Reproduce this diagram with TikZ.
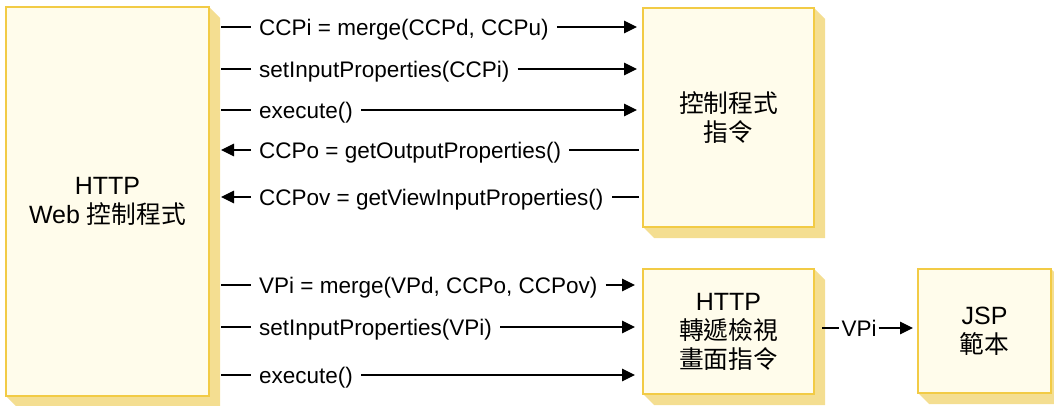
\documentclass[tikz,border=0pt]{standalone}
\usepackage{fontspec}
\setmainfont{Liberation Sans}
\newfontfamily\cjk{Noto Sans CJK TC}[Scale=0.99]
\usetikzlibrary{arrows.meta,calc,backgrounds}
\definecolor{boxfill}{HTML}{FFFCEB}
\definecolor{boxline}{HTML}{F2CB45}
\definecolor{boxshade}{HTML}{F4DE91}

\begin{document}
\begin{tikzpicture}[x=1pt,y=-1pt,
  panel/.style={draw=boxline, fill=boxfill, line width=2pt, inner sep=0pt,
    outer sep=0pt, anchor=north west, align=center,
    font=\fontsize{25}{29}\selectfont},
  msg/.style={anchor=west, inner xsep=8pt, inner ysep=0pt, text height=16pt,
    text depth=0pt, font=\fontsize{22.5}{27}\selectfont},
  flow/.style={line width=1.2pt, -{Triangle[length=13pt,width=12.5pt]}},
  plain/.style={line width=1.2pt},
  shade/.style={fill=boxshade}]
\useasboundingbox (0,0) rectangle (1054,405);

% components
\node[panel, minimum width=203pt, minimum height=389pt] (lbox) at (6,7)
  {HTTP\\Web {\cjk 控制程式}};
\node[panel, minimum width=171pt, minimum height=219pt] (cbox) at (643,8)
  {{\cjk 控制程式}\\{\cjk 指令}};
\node[panel, minimum width=171pt, minimum height=125pt] (hbox) at (643,269)
  {HTTP\\{\cjk 轉遞檢視}\\{\cjk 畫面指令}};
\node[panel, minimum width=133pt, minimum height=124pt] (jbox) at (918,269)
  {JSP\\{\cjk 範本}};

% extruded shadows behind each component
\begin{scope}[on background layer]
  \foreach \b in {lbox,cbox,hbox,jbox}{
    \fill[shade] (\b.north east) -- ++(11,11) -- ($(\b.south east)+(11,11)$)
      -- ($(\b.south west)+(11,11)$) -- (\b.south west) -- cycle;
  }
\end{scope}

% calls to the controller command
\node[msg] (m1) at (251,27) {CCPi = merge(CCPd, CCPu)};
\node[msg] (m2) at (251,69) {setInputProperties(CCPi)};
\node[msg] (m3) at (251,110) {execute()};
\node[msg] (m4) at (251,150) {CCPo = getOutputProperties()};
\node[msg] (m5) at (251,197) {CCPov = getViewInputProperties()};

\foreach \m in {m1,m2,m3}{
  \draw[plain, shorten <=12pt] (lbox.east |- \m) -- (\m.west);
  \draw[flow, shorten >=6pt] (\m.east) -- (cbox.west |- \m);
}
\foreach \m in {m4,m5}{
  \draw[plain, shorten <=4pt] (cbox.west |- \m) -- (\m.east);
  \draw[flow, shorten >=12pt] (\m.west) -- (lbox.east |- \m);
}

% calls to the forward view command
\node[msg] (m6) at (251,285) {VPi = merge(VPd, CCPo, CCPov)};
\node[msg] (m7) at (251,327) {setInputProperties(VPi)};
\node[msg] (m8) at (251,375) {execute()};

\foreach \m in {m6,m7,m8}{
  \draw[plain, shorten <=12pt] (lbox.east |- \m) -- (\m.west);
  \draw[flow, shorten >=8pt] (\m.east) -- (hbox.west |- \m);
}

% view command to JSP template
\node[msg, anchor=center, inner xsep=2pt] (vp) at (859,328) {VPi};
\draw[plain, shorten <=8pt] (hbox.east |- vp) -- (vp.west);
\draw[flow, shorten >=5pt] (vp.east) -- (jbox.west |- vp);
\end{tikzpicture}
\end{document}
